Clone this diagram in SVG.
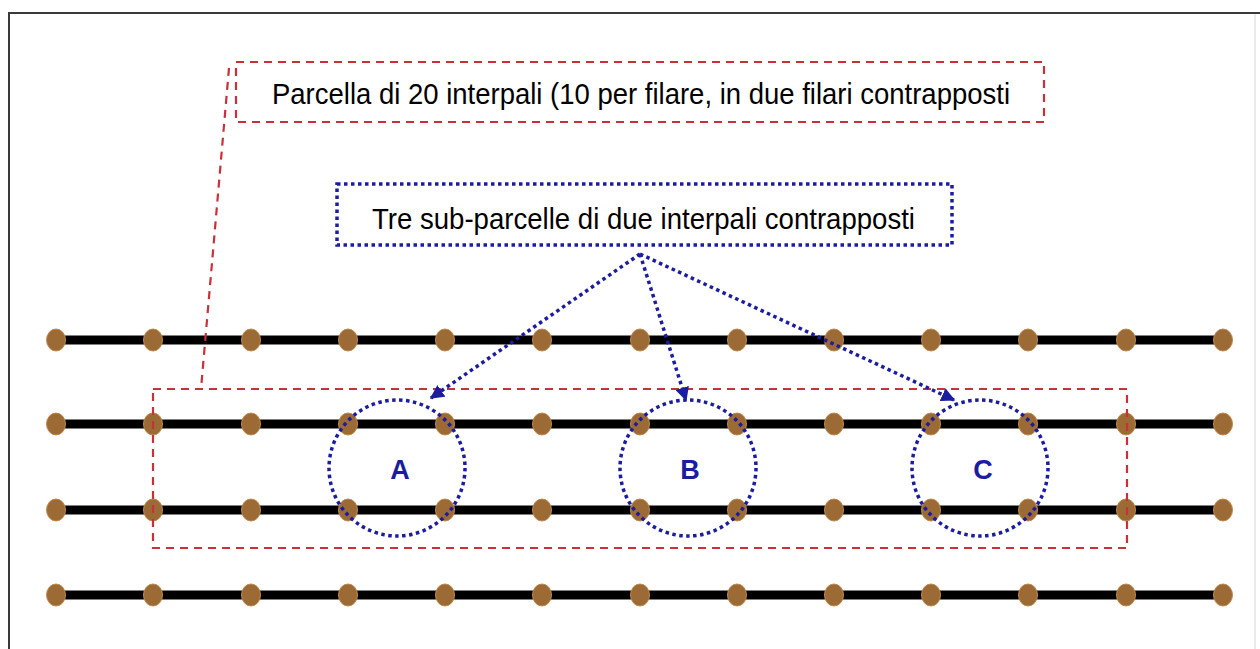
<svg xmlns="http://www.w3.org/2000/svg" width="1260" height="649" viewBox="0 0 1260 649">
  <defs>
    <style>
      .row { stroke: #000; stroke-width: 9; }
      .post { fill: #9c6a34; stroke: #c08a50; stroke-width: 1; }
      .red { fill: none; stroke: #c8303a; stroke-width: 2.2; stroke-dasharray: 8 6; }
      .blue { fill: none; stroke: #1c1ca0; stroke-width: 3.5; stroke-dasharray: 3.5 3.5; }
      .lbl { font-family: "Liberation Sans", Arial, sans-serif; font-size: 30px; }
      .sub { font-family: "Liberation Sans", Arial, sans-serif; font-size: 27px; font-weight: bold; fill: #1c1ca0; text-anchor: middle; }
    </style>
    <marker id="arrow" viewBox="0 0 10 10" refX="9" refY="5" markerWidth="4" markerHeight="4" orient="auto" markerUnits="strokeWidth">
      <path d="M0,0 L10,5 L0,10 z" fill="#1c1ca0"/>
    </marker>
    <g id="postRow">
      <ellipse class="post" cx="56" cy="0" rx="9.5" ry="11"/>
      <ellipse class="post" cx="153" cy="0" rx="9.5" ry="11"/>
      <ellipse class="post" cx="251" cy="0" rx="9.5" ry="11"/>
      <ellipse class="post" cx="348" cy="0" rx="9.5" ry="11"/>
      <ellipse class="post" cx="445" cy="0" rx="9.5" ry="11"/>
      <ellipse class="post" cx="542" cy="0" rx="9.5" ry="11"/>
      <ellipse class="post" cx="640" cy="0" rx="9.5" ry="11"/>
      <ellipse class="post" cx="737" cy="0" rx="9.5" ry="11"/>
      <ellipse class="post" cx="834" cy="0" rx="9.5" ry="11"/>
      <ellipse class="post" cx="931" cy="0" rx="9.5" ry="11"/>
      <ellipse class="post" cx="1028" cy="0" rx="9.5" ry="11"/>
      <ellipse class="post" cx="1126" cy="0" rx="9.5" ry="11"/>
      <ellipse class="post" cx="1223" cy="0" rx="9.5" ry="11"/>
    </g>
  </defs>

  <rect width="1260" height="649" fill="#fff"/>

  <!-- outer frame -->
  <g id="frame">
    <path d="M9,649 L9,13 L1260,13" fill="none" stroke="#3a3a3a" stroke-width="2"/>
    <line x1="1255" y1="14" x2="1255" y2="649" stroke="#e6e6e6" stroke-width="1.5"/>
  </g>

  <!-- vine rows with posts -->
  <g id="row1">
    <line class="row" x1="56" y1="340" x2="1223" y2="340"/>
    <use href="#postRow" y="340"/>
  </g>
  <g id="row2">
    <line class="row" x1="56" y1="424" x2="1223" y2="424"/>
    <use href="#postRow" y="424"/>
  </g>
  <g id="row3">
    <line class="row" x1="56" y1="510" x2="1223" y2="510"/>
    <use href="#postRow" y="510"/>
  </g>
  <g id="row4">
    <line class="row" x1="56" y1="595" x2="1223" y2="595"/>
    <use href="#postRow" y="595"/>
  </g>

  <!-- plot of 20 inter-post spaces -->
  <g id="plot">
    <rect class="red" x="153" y="389" width="974" height="159"/>
  </g>

  <g id="plotLabel">
    <rect class="red" x="236" y="62" width="808" height="60" fill="#fff"/>
    <text class="lbl" x="272" y="104" textLength="738" lengthAdjust="spacingAndGlyphs" fill="#000">Parcella di 20 interpali (10 per filare, in due filari contrapposti</text>
  </g>

  <g id="subLabel">
    <rect class="blue" x="337" y="184" width="615" height="61" fill="#fff"/>
    <text class="lbl" x="372" y="229" textLength="543" lengthAdjust="spacingAndGlyphs" fill="#000">Tre sub-parcelle di due interpali contrapposti</text>
  </g>

  <!-- sub-plots -->
  <g id="subA">
    <circle class="blue" cx="397" cy="468" r="68"/>
    <text class="sub" x="400" y="479">A</text>
  </g>
  <g id="subB">
    <circle class="blue" cx="688" cy="468" r="68"/>
    <text class="sub" x="690" y="479">B</text>
  </g>
  <g id="subC">
    <circle class="blue" cx="980" cy="468" r="68"/>
    <text class="sub" x="983" y="479">C</text>
  </g>

  <!-- connectors -->
  <g id="connectors">
    <line class="red" x1="229" y1="68" x2="201" y2="389"/>
    <line class="blue" x1="640" y1="254" x2="431" y2="398" marker-end="url(#arrow)"/>
    <line class="blue" x1="640" y1="254" x2="686" y2="400" marker-end="url(#arrow)"/>
    <line class="blue" x1="640" y1="254" x2="954" y2="400" marker-end="url(#arrow)"/>
  </g>
</svg>
